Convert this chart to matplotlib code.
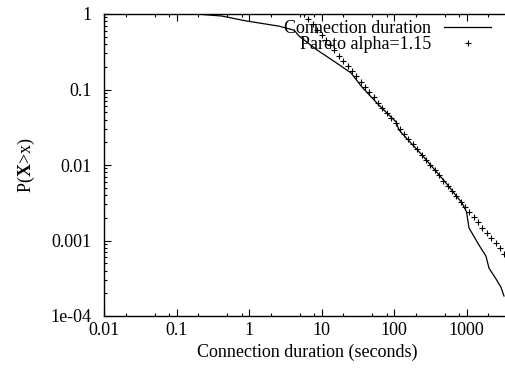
import matplotlib
matplotlib.use("Agg")
import matplotlib.pyplot as plt
from matplotlib.ticker import LogLocator, NullFormatter

plt.rcParams['font.family'] = ['Liberation Serif', 'DejaVu Serif']
plt.rcParams['mathtext.fontset'] = 'custom'
plt.rcParams['mathtext.rm'] = 'Liberation Serif'
plt.rcParams['mathtext.bf'] = 'Liberation Serif:bold'

dur_x = [0.01, 0.05, 0.2, 0.42, 0.91, 2.6, 4.2, 4.9, 8.7, 14, 25.5, 36, 62, 107,
         117, 243, 521, 867, 1000, 1082, 1486, 1857, 2044, 2553, 2992, 3290]
dur_y = [1.0, 1.0, 0.995, 0.94, 0.81, 0.69, 0.61, 0.51, 0.333, 0.246, 0.166, 0.108,
         0.062, 0.037, 0.0291, 0.0136, 0.00578, 0.00314, 0.0024, 0.00147, 0.00087,
         0.00062, 0.00043, 0.00031, 0.00024, 0.000184]

# Pareto alpha=1.15 reference points
par_x = [5.75, 6.61, 7.59, 8.71, 10.0, 11.5, 13.2, 15.1, 17.4, 20.0, 22.9, 26.3,
         30.2, 34.7, 39.8, 45.7, 52.5, 60.3, 69.2, 79.4, 91.2, 105, 120, 138, 158,
         182, 209, 240, 275, 316, 363, 417, 479, 550, 631, 724, 832, 955, 1096,
         1259, 1445, 1660, 1905, 2188, 2512, 2884, 3311]
par_y = [1.0, 0.853, 0.728, 0.621, 0.530, 0.452, 0.385, 0.329, 0.281, 0.239, 0.204,
         0.174, 0.149, 0.127, 0.108, 0.0923, 0.0787, 0.0671, 0.0573, 0.0489, 0.0417,
         0.0356, 0.0303, 0.0259, 0.0221, 0.0188, 0.0161, 0.0137, 0.0117, 0.00998,
         0.00851, 0.00726, 0.00619, 0.00528, 0.00451, 0.00385, 0.00328, 0.00280,
         0.00239, 0.00204, 0.00174, 0.00148, 0.00126, 0.00108, 0.000920, 0.000785,
         0.000670]

x_ticks = [0.01, 0.1, 1, 10, 100, 1000]
x_ticklabels = ['0.01', '0.1', '1', '10', '100', '1000']
y_ticks = [1e-4, 1e-3, 1e-2, 1e-1, 1]
y_ticklabels = ['1e-04', '0.001', '0.01', '0.1', '1']

W, H = 505, 373
fig = plt.figure(figsize=(W / 100, H / 100), dpi=100)
ax = fig.add_axes([104 / W, 1 - 316 / H, 406 / W, 302 / H])

ax.plot(dur_x, dur_y, color='black', lw=0.9, label='Connection duration')
ax.plot(par_x, par_y, linestyle='none', marker='+', color='black', ms=5, mew=0.8,
        label='Pareto alpha=1.15')

ax.set_xscale('log')
ax.set_yscale('log')
ax.set_xlim(0.01, 10 ** 3.6)
ax.set_ylim(1e-4, 1)

ax.set_xticks(x_ticks)
ax.set_xticklabels(x_ticklabels)
ax.set_yticks(y_ticks)
ax.set_yticklabels(y_ticklabels)
ax.xaxis.set_minor_locator(LogLocator(base=10, subs=(2, 5, 8)))
ax.yaxis.set_minor_locator(LogLocator(base=10, subs=tuple(range(2, 10))))
ax.xaxis.set_minor_formatter(NullFormatter())
ax.yaxis.set_minor_formatter(NullFormatter())

ax.tick_params(which='both', direction='in', top=True, right=False, labelsize=13,
               width=0.8)
ax.tick_params(which='major', length=5)
ax.tick_params(which='minor', length=2.5)
ax.tick_params(axis='y', pad=9)
ax.tick_params(axis='x', pad=4)
for s in ax.spines.values():
    s.set_linewidth(1.0)

ax.set_xlabel('Connection duration (seconds)', fontsize=13, labelpad=4)
ax.set_ylabel(r'P($\mathbf{X}$>x)', fontsize=13, labelpad=10)

leg = ax.legend(loc='upper right', bbox_to_anchor=(491 / W, 1 - 20 / H),
                bbox_transform=fig.transFigure, frameon=False, markerfirst=False,
                fontsize=13, handlelength=2.6, handletextpad=0.7, labelspacing=-0.04,
                borderaxespad=0, borderpad=0)
for t in leg.get_texts():
    t.set_ha('right')

fig.savefig('out.png', dpi=100)
